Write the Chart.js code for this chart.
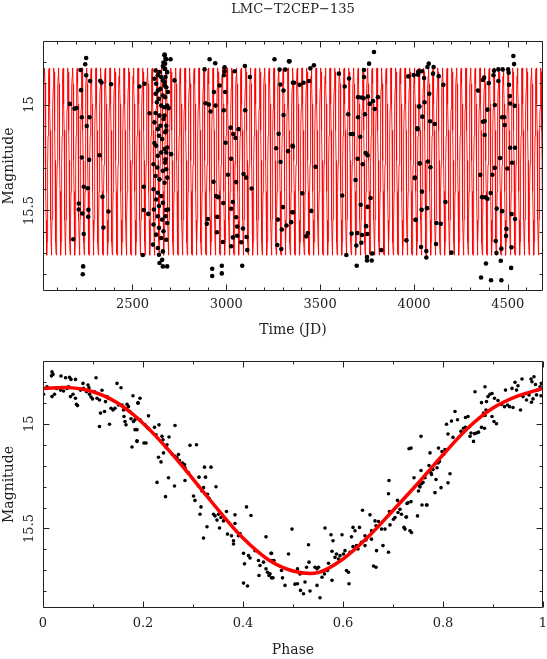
<!DOCTYPE html>
<html>
<head>
<meta charset="utf-8">
<script src="https://cdn.jsdelivr.net/npm/chart.js@4.4.1/dist/chart.umd.min.js"></script>
<style>
  html, body { margin: 0; padding: 0; background: #fff; }
  #wrap { position: relative; width: 547px; height: 659px; }
  #wrap canvas { position: absolute; left: 0; top: 0; }
</style>
</head>
<body>
<div id="wrap">
  <canvas id="timeChart" width="547" height="659"></canvas>
  <canvas id="phaseChart" width="547" height="659"></canvas>
</div>
<script>
const starName = "LMC\u2212T2CEP\u2212135";

// observations: [time (JD), magnitude]
const timeObs = [
  [2253,14.780],[2248,14.810],[2223,14.837],[2253,14.862],[2274,14.889],[2226,14.932],[2328,14.888],[2335,14.896],
  [2386,14.904],[2166,14.997],[2191,15.020],[2201,15.016],[2230,15.060],[2271,15.060],[2256,15.101],[2324,15.239],
  [2230,15.250],[2269,15.261],[2240,15.388],[2262,15.395],[2214,15.467],[2214,15.495],[2232,15.514],[2265,15.497],
  [2264,15.530],[2340,15.435],[2372,15.505],[2345,15.580],[2184,15.636],[2240,15.611],[2237,15.764],[2235,15.801],
  [2537,14.915],[2564,14.902],[2591,15.041],[2560,15.388],[2560,15.498],[2584,15.516],[2555,15.710],
  [2671,14.764],[2676,14.783],[2665,14.802],[2662,14.818],[2674,14.831],[2623,14.839],[2644,14.847],[2635,14.862],
  [2653,14.870],[2617,14.878],[2662,14.886],[2626,14.902],[2671,14.910],[2648,14.926],[2635,14.934],[2623,14.949],
  [2662,14.957],[2641,14.973],[2630,14.989],[2653,15.005],[2671,15.013],[2623,15.040],[2644,15.052],[2665,15.068],
  [2617,15.084],[2649,15.100],[2635,15.116],[2680,15.123],[2641,15.147],[2658,15.163],[2617,15.182],[2626,15.195],
  [2671,15.210],[2653,15.226],[2635,15.242],[2676,15.258],[2612,15.282],[2632,15.297],[2662,15.313],[2623,15.337],
  [2644,15.353],[2671,15.369],[2612,15.400],[2635,15.416],[2653,15.432],[2626,15.448],[2662,15.464],[2641,15.479],
  [2614,15.495],[2680,15.498],[2635,15.527],[2658,15.543],[2612,15.566],[2641,15.582],[2665,15.598],[2626,15.614],
  [2653,15.630],[2609,15.661],[2635,15.677],[2662,15.693],[2641,15.709],[2658,15.733],[2644,15.748],[2662,15.764],
  [2671,14.767],[2680,14.786],[2674,14.807],[2671,14.831],[2685,14.847],[2676,14.870],[2671,14.894],[2680,14.918],
  [2689,14.941],[2674,14.965],[2685,15.005],[2692,15.017],[2671,15.052],[2680,15.100],[2674,15.131],[2685,15.203],
  [2680,15.226],[2706,15.234],[2674,15.274],[2680,15.305],[2685,15.345],[2689,15.495],[2676,15.527],[2685,15.559],
  [2680,15.638],[2685,15.764],[2703,14.786],[2724,14.886],
  [2911,14.786],[2941,14.805],[2991,14.824],[2991,14.843],[2987,14.862],[2884,14.834],[2964,14.910],[2934,14.941],
  [2994,14.941],[2889,14.994],[2907,15.000],[2943,15.005],[2916,15.033],[2987,15.027],[3044,14.843],[3099,14.818],
  [3126,14.870],[3101,15.027],[3023,15.109],[3065,15.116],[3037,15.139],[3049,15.158],[2996,15.180],[3026,15.256],
  [2932,15.364],[3009,15.331],[3053,15.366],[3092,15.328],[3106,15.345],[3135,15.396],[2946,15.432],[2957,15.437],
  [2984,15.465],[3035,15.460],[3026,15.492],[2902,15.540],[2896,15.563],[2952,15.530],[3053,15.532],[2950,15.603],
  [3058,15.576],[3089,15.585],[2982,15.649],[3026,15.669],[3035,15.627],[3058,15.619],[3108,15.625],[3080,15.650],
  [3112,15.687],[2925,15.775],[2925,15.809],[2976,15.761],[2976,15.797],[3085,15.761],
  [3257,14.786],[3334,14.796],[3284,14.835],[3314,14.835],[3361,14.897],[3288,14.905],[3305,14.934],[3305,15.049],
  [3279,15.138],[3266,15.206],[3289,15.271],[3329,15.220],[3353,15.195],[3302,15.484],[3275,15.543],[3346,15.555],
  [3321,15.571],[3296,15.590],[3355,15.508],[3272,15.663],[3293,15.682],
  [3337,14.796],[3355,14.897],[3391,14.907],[3412,14.897],[3440,14.889],[3448,14.829],[3467,14.815],[3355,15.198],
  [3476,15.294],[3405,15.419],[3352,15.508],[3453,15.502],[3426,15.622],[3435,15.606],
  [3600,14.854],[3631,14.915],[3654,14.877],[3650,15.046],[3663,15.139],[3675,15.139],[3702,14.965],[3720,14.967],
  [3732,14.970],[3702,15.060],[3714,15.152],[3734,14.870],[3734,14.837],[3761,14.807],[3764,14.997],[3782,14.984],
  [3791,15.021],[3808,14.965],[3755,14.962],[3739,15.046],[3743,15.229],[3753,15.239],[3700,15.256],[3727,15.282],
  [3689,15.356],[3618,15.429],[3716,15.473],[3769,15.441],[3753,15.483],[3668,15.609],[3698,15.606],[3723,15.616],
  [3752,15.611],[3745,15.574],[3693,15.665],[3720,15.652],[3640,15.710],[3695,15.761],[3750,15.720],[3750,15.736],
  [3775,15.736],[3778,15.703],[3826,15.687],[3787,14.752],
  [3970,14.867],[3999,14.861],[4024,14.847],[4027,15.009],[4020,15.116],[4031,15.277],[4006,15.345],[4009,15.544],
  [3960,15.641],
  [4025,14.843],[4043,14.843],[4054,14.875],[4022,14.859],[4072,14.823],[4079,14.807],[4105,14.823],[4102,14.854],
  [4132,14.866],[4157,14.907],[4082,14.949],[4057,14.989],[4029,15.009],[4045,15.057],[4018,15.112],[4086,15.079],
  [4111,15.092],[4031,15.278],[4075,15.269],[4088,15.296],[4004,15.347],[4043,15.411],[4041,15.497],[4070,15.489],
  [4009,15.544],[4120,15.559],[4143,15.563],[4168,15.460],[4118,15.658],[4038,15.672],[4066,15.691],[4066,15.722],
  [4200,15.699],
  [4342,14.934],[4368,14.884],[4374,14.873],[4399,14.899],[4392,15.024],[4368,15.081],[4377,15.078],[4377,15.144],
  [4424,14.862],[4427,14.840],[4450,14.834],[4450,14.889],[4473,14.834],[4502,14.834],[4505,14.850],[4507,14.907],
  [4511,14.960],[4537,15.006],[4513,14.995],[4431,15.002],[4470,15.060],[4481,15.060],[4484,15.097],[4459,15.252],
  [4513,15.204],[4539,15.204],[4523,15.275],[4498,15.302],[4431,15.299],[4418,15.331],[4354,15.332],[4363,15.437],
  [4381,15.438],[4392,15.445],[4409,15.418],[4441,15.491],[4470,15.503],[4521,15.517],[4539,15.540],[4493,15.587],
  [4491,15.620],[4436,15.644],[4466,15.680],[4520,15.674],[4440,15.701],[4463,15.737],[4518,15.771],[4384,15.750],
  [4358,15.816],[4411,15.829],[4466,15.829],[4530,14.771],[4534,14.809]
];

// folded observations: [phase, magnitude]
const phaseObs = [
  [0.001,14.859],[0.008,14.823],[0.018,14.870],[0.023,14.859],[0.018,14.752],[0.020,14.764],[0.017,14.771],[0.027,14.831],
  [0.036,14.772],[0.035,14.839],[0.041,14.843],[0.045,14.780],[0.053,14.778],[0.048,14.831],[0.051,14.823],[0.056,14.788],
  [0.065,14.788],[0.055,14.870],[0.060,14.859],[0.065,14.878],[0.067,14.907],[0.069,14.913],[0.075,14.839],[0.081,14.831],
  [0.080,14.807],[0.087,14.847],[0.090,14.815],[0.092,14.828],[0.093,14.859],[0.096,14.872],[0.099,14.881],[0.106,14.780],
  [0.103,14.847],[0.108,14.878],[0.113,14.886],[0.115,14.949],[0.113,15.013],[0.118,14.840],[0.123,14.941],[0.125,14.894],
  [0.128,14.870],[0.131,14.878],[0.133,15.002],[0.136,14.926],[0.140,14.934],[0.144,14.926],[0.148,14.807],[0.156,14.828],
  [0.151,14.910],[0.158,14.910],[0.161,14.934],[0.162,14.965],[0.164,14.989],[0.166,15.005],[0.168,14.907],[0.171,14.918],
  [0.174,14.941],[0.176,14.976],[0.180,14.866],[0.181,14.989],[0.184,15.028],[0.188,15.084],[0.178,15.111],[0.190,14.902],
  [0.194,14.981],[0.202,15.092],
  [0.194,14.878],[0.190,14.899],[0.184,14.981],[0.188,15.028],[0.188,15.081],[0.211,14.962],[0.204,15.005],[0.207,15.013],
  [0.210,15.021],[0.206,15.092],[0.223,15.017],[0.232,15.005],[0.226,15.052],[0.238,15.060],[0.240,15.076],[0.248,15.100],
  [0.246,15.112],[0.252,15.063],[0.264,15.008],[0.231,15.160],[0.236,15.182],[0.241,15.139],[0.251,15.258],[0.228,15.280],
  [0.245,15.348],[0.259,15.147],[0.264,15.155],[0.263,15.297],[0.268,15.163],[0.271,15.147],[0.273,15.176],[0.279,15.187],
  [0.283,15.195],[0.284,15.210],[0.287,15.226],[0.291,15.234],[0.284,15.271],[0.294,15.103],[0.307,15.100],[0.301,15.345],
  [0.304,15.366],[0.311,15.297],[0.312,15.255],[0.318,15.321],[0.321,15.305],[0.323,15.207],[0.324,15.334],[0.325,15.255],
  [0.329,15.337],[0.336,15.207],[0.332,15.356],[0.316,15.397],[0.314,15.432],[0.346,15.301],[0.341,15.432],[0.344,15.440],
  [0.348,15.460],[0.351,15.432],[0.356,15.448],[0.361,15.464],[0.367,15.419],[0.384,15.435],[0.384,15.476],[0.328,15.492],
  [0.321,15.546],[0.353,15.498],[0.369,15.527],[0.377,15.535],[0.381,15.559],[0.381,15.574],[0.391,15.535],[0.394,15.524],
  [0.407,15.397],[0.416,15.438],[0.401,15.619],[0.403,15.669],[0.411,15.630],[0.414,15.641],[0.424,15.606],[0.431,15.653],
  [0.434,15.677],[0.432,15.725],[0.446,15.540],[0.441,15.661],[0.446,15.693],[0.449,15.709],[0.452,15.725],[0.456,15.619],
  [0.458,15.653],[0.401,15.761],[0.409,15.775],[0.457,15.736],
  [0.457,15.619],[0.462,15.653],[0.454,15.717],[0.460,15.736],[0.477,15.701],[0.479,15.736],[0.484,15.772],[0.491,15.622],
  [0.498,15.503],[0.504,15.766],[0.509,15.693],[0.509,15.764],[0.514,15.717],[0.515,15.796],[0.521,15.812],[0.524,15.756],
  [0.527,15.685],[0.531,15.578],[0.532,15.661],[0.534,15.799],[0.544,15.685],[0.548,15.693],[0.551,15.685],[0.548,15.772],
  [0.554,15.831],[0.558,15.733],[0.563,15.717],[0.564,15.498],[0.569,15.701],[0.571,15.666],[0.576,15.530],[0.578,15.748],
  [0.580,15.559],[0.578,15.609],[0.584,15.638],[0.587,15.622],[0.591,15.646],[0.594,15.630],[0.598,15.530],[0.601,15.622],
  [0.604,15.606],[0.607,15.701],[0.611,15.709],[0.612,15.764],[0.614,15.614],[0.617,15.540],[0.620,15.587],[0.620,15.495],
  [0.624,15.511],[0.627,15.582],[0.630,15.598],[0.633,15.495],[0.637,15.566],[0.639,15.413],[0.644,15.535],[0.646,15.555],
  [0.644,15.582],[0.654,15.435],[0.657,15.511],[0.657,15.551],[0.661,15.679],[0.666,15.685],[0.664,15.464],[0.666,15.487],
  [0.667,15.606],[0.671,15.467],[0.677,15.503],[0.680,15.582],[0.684,15.503],[0.691,15.334],[0.692,15.271],[0.691,15.614],
  [0.693,15.419],[0.694,15.483],[0.701,15.456],[0.704,15.448],[0.709,15.366],[0.710,15.424],[0.714,15.408],[0.717,15.432],
  [0.722,15.495],[0.724,15.503],[0.726,15.445],[0.728,15.381],[0.732,15.119],
  [0.727,15.445],[0.730,15.377],[0.736,15.372],[0.736,15.116],[0.734,15.511],[0.737,15.519],[0.742,15.258],[0.749,15.440],
  [0.751,15.321],[0.754,15.302],[0.752,15.294],[0.756,15.060],[0.756,15.223],[0.757,15.286],[0.758,15.388],[0.760,15.280],
  [0.764,15.258],[0.767,15.388],[0.768,15.388],[0.772,15.199],[0.774,15.139],[0.776,15.234],[0.777,15.242],[0.780,15.218],
  [0.784,15.329],[0.786,15.266],[0.788,15.210],[0.790,15.187],[0.791,15.116],[0.793,15.180],[0.796,15.305],[0.798,15.133],
  [0.802,15.144],[0.804,15.123],[0.807,15.128],[0.810,15.282],[0.807,15.002],[0.810,15.049],[0.814,15.239],[0.817,14.987],
  [0.820,15.065],[0.824,14.941],[0.829,14.981],[0.836,15.036],[0.841,15.021],[0.845,14.970],[0.850,14.965],[0.845,15.017],
  [0.854,15.060],[0.856,15.044],[0.861,15.084],[0.863,15.047],[0.867,15.044],[0.871,15.040],[0.877,15.017],[0.883,15.021],
  [0.884,14.960],[0.881,14.949],[0.886,14.934],[0.887,14.894],[0.864,14.847],[0.877,14.899],[0.884,14.823],[0.890,14.870],
  [0.894,14.859],[0.898,14.855],[0.898,14.965],[0.902,14.989],[0.907,15.000],[0.903,14.878],[0.910,14.889],[0.917,14.907],
  [0.923,14.918],[0.925,14.839],[0.929,14.910],[0.933,14.918],[0.940,14.922],[0.938,14.831],[0.944,14.802],[0.947,14.839],
  [0.950,14.818],[0.955,14.934],[0.958,14.786],[0.960,14.870],[0.965,14.855],[0.967,14.886],[0.972,14.862],[0.976,14.786],
  [0.978,14.799],[0.980,14.881],[0.977,14.897],[0.982,14.775],[0.985,14.812],[0.987,14.862],[0.989,14.839],[0.994,14.823],
  [0.996,14.866],[0.997,14.807]
];

// fitted light curve
const modelPhase = [0, 0.05, 0.1, 0.15, 0.2, 0.25, 0.3, 0.35, 0.4, 0.45, 0.5, 0.55, 0.6, 0.65, 0.7, 0.75, 0.8, 0.85, 0.9, 0.95, 1];
const modelMag = [14.831, 14.827, 14.847, 14.902, 14.997, 15.122, 15.264, 15.41, 15.546, 15.648, 15.703, 15.711, 15.646, 15.541, 15.414, 15.284, 15.148, 15.02, 14.925, 14.867, 14.831];
const period = 24.96;
const epoch = 2679;

const timeTicks = [2500, 3000, 3500, 4000, 4500];
const timeLabels = ["2500", "3000", "3500", "4000", "4500"];
const phaseTicks = [0, 0.2, 0.4, 0.6, 0.8, 1];
const phaseLabels = ["0", "0.2", "0.4", "0.6", "0.8", "1"];
const magTicks = [15, 15.5];
const magLabels = ["15", "15.5"];

const SERIF = "'DejaVu Serif', serif";
const INK = "#222";

// repeat the fitted curve over the time axis
const modelTime = [];
for (let k = Math.floor((2000 - epoch) / period) - 1; epoch + k * period < 4720; k++) {
  for (let j = 0; j < modelPhase.length - 1; j++) {
    modelTime.push({ x: epoch + (k + modelPhase[j]) * period, y: modelMag[j] });
  }
}

// box frame with inward ticks on all four sides
const frameTicks = {
  id: "frameTicks",
  afterDraw(chart, args, o) {
    const { ctx, chartArea: a } = chart;
    const xs = chart.scales.x, ys = chart.scales.y;
    const L = Math.round(a.left) + 0.5, R = Math.round(a.right) - 0.5;
    const T = Math.round(a.top) + 0.5, B = Math.round(a.bottom) - 0.5;
    const steps = (min, max, step) => {
      const out = [];
      for (let v = Math.ceil(min / step - 1e-6) * step; v <= max + 1e-9; v += step) out.push(+v.toFixed(6));
      return out;
    };
    ctx.save();
    ctx.strokeStyle = INK;
    ctx.lineWidth = 1;
    ctx.beginPath();
    ctx.rect(L, T, R - L, B - T);
    steps(xs.min, xs.max, o.xStep).forEach(v => {
      const p = Math.round(xs.getPixelForValue(v)) + 0.5;
      const len = o.xMajor.includes(v) ? 6 : 3;
      ctx.moveTo(p, B); ctx.lineTo(p, B - len);
      ctx.moveTo(p, T); ctx.lineTo(p, T + len);
    });
    steps(ys.min, ys.max, o.yStep).forEach(v => {
      const p = Math.round(ys.getPixelForValue(v)) + 0.5;
      const len = o.yMajor.includes(v) ? 6 : 3;
      ctx.moveTo(L, p); ctx.lineTo(L + len, p);
      ctx.moveTo(R, p); ctx.lineTo(R - len, p);
    });
    ctx.stroke();

    ctx.fillStyle = INK;
    ctx.font = "13px " + SERIF;
    ctx.textAlign = "center";
    ctx.textBaseline = "middle";
    o.xMajor.forEach((v, i) => ctx.fillText(o.xLabels[i], xs.getPixelForValue(v), B + o.labelGap));
    o.yMajor.forEach((v, i) => {
      ctx.save();
      ctx.translate(30, ys.getPixelForValue(v));
      ctx.rotate(-Math.PI / 2);
      ctx.fillText(o.yLabels[i], 0, 0);
      ctx.restore();
    });
    if (o.title) ctx.fillText(o.title, (a.left + a.right) / 2, 10);
    ctx.restore();
  }
};

function axisTitle(text) {
  return { display: true, text: text, color: INK, font: { family: SERIF, size: 14 }, padding: { top: 1, bottom: 0 } };
}

function baseScales(xMin, xMax, xTitle, xHeight) {
  return {
    x: {
      type: "linear", min: xMin, max: xMax,
      grid: { display: false }, border: { display: false }, ticks: { display: false },
      title: axisTitle(xTitle),
      afterFit: s => { s.height = xHeight; }
    },
    y: {
      type: "linear", reverse: true, min: 14.70, max: 15.88,
      grid: { display: false }, border: { display: false }, ticks: { display: false },
      title: axisTitle("Magnitude"),
      afterFit: s => { s.width = 43; }
    }
  };
}

new Chart(document.getElementById("timeChart"), {
  type: "scatter",
  data: {
    datasets: [
      {
        data: timeObs.map(p => ({ x: p[0], y: p[1] })),
        backgroundColor: "#000", borderWidth: 0, pointRadius: 2.3, order: 0
      },
      {
        data: modelTime, showLine: true, borderColor: "#ff0000", borderWidth: 0.9,
        pointRadius: 0, tension: 0, order: 1
      }
    ]
  },
  options: {
    responsive: false, animation: false, events: [],
    layout: { padding: { top: 41, right: 4, bottom: 320, left: 0 } },
    plugins: {
      legend: { display: false }, tooltip: { enabled: false },
      frameTicks: {
        title: starName, labelGap: 14, xStep: 100, xMajor: timeTicks, xLabels: timeLabels,
        yStep: 0.1, yMajor: magTicks, yLabels: magLabels
      }
    },
    scales: baseScales(2023, 4688, "Time (JD)", 48)
  },
  plugins: [frameTicks]
});

new Chart(document.getElementById("phaseChart"), {
  type: "scatter",
  data: {
    datasets: [
      {
        data: phaseObs.map(p => ({ x: p[0], y: p[1] })),
        backgroundColor: "#000", borderWidth: 0, pointRadius: 1.8, order: 1
      },
      {
        data: modelPhase.map((ph, i) => ({ x: ph, y: modelMag[i] })),
        showLine: true, borderColor: "#ff0000", borderWidth: 3.5,
        pointRadius: 0, tension: 0.35, order: 0
      }
    ]
  },
  options: {
    responsive: false, animation: false, events: [],
    layout: { padding: { top: 361, right: 4, bottom: 0, left: 0 } },
    plugins: {
      legend: { display: false }, tooltip: { enabled: false },
      frameTicks: {
        labelGap: 16, xStep: 0.1, xMajor: phaseTicks, xLabels: phaseLabels,
        yStep: 0.1, yMajor: magTicks, yLabels: magLabels
      }
    },
    scales: baseScales(0, 1, "Phase", 51)
  },
  plugins: [frameTicks]
});
</script>
</body>
</html>
